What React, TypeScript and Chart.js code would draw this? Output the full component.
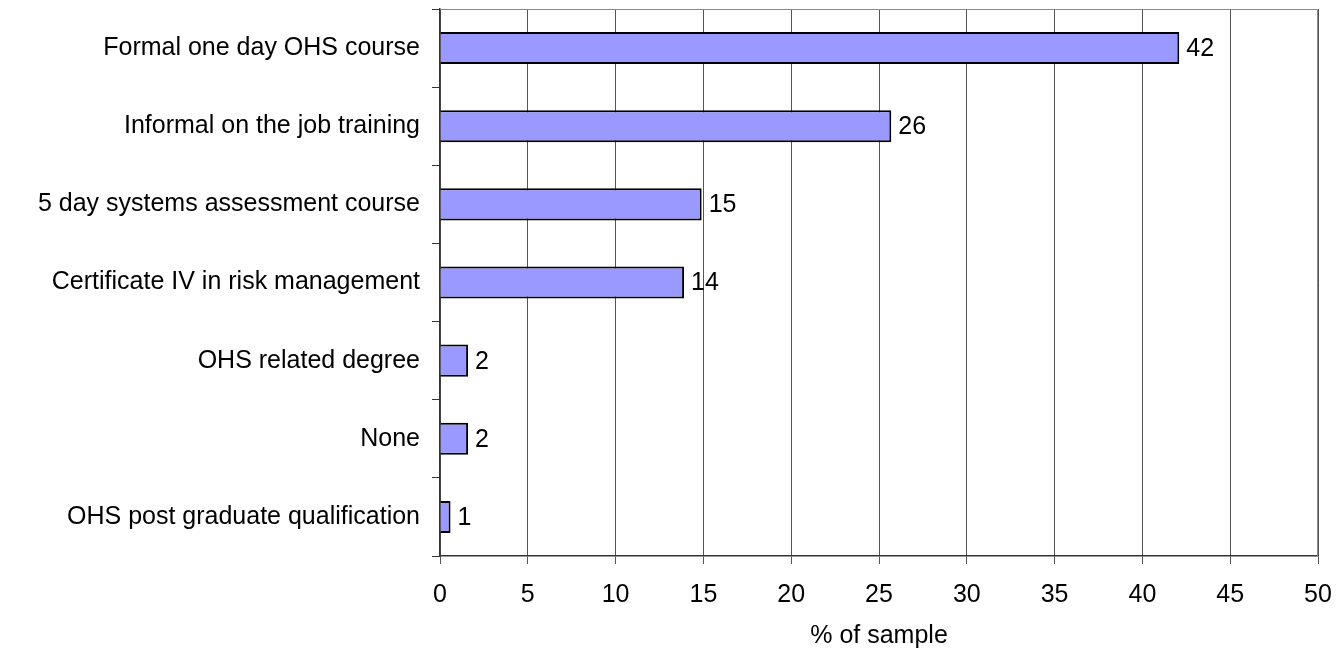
import React, { useEffect, useRef } from "react";
import { Chart, registerables } from "chart.js";

Chart.register(...registerables);

const categories = [
  "Formal one day OHS course",
  "Informal on the job training",
  "5 day systems assessment course",
  "Certificate IV in risk management",
  "OHS related degree",
  "None",
  "OHS post graduate qualification",
];
const values = [42.1, 25.7, 14.9, 13.9, 1.6, 1.6, 0.6];
const valueLabels = ["42", "26", "15", "14", "2", "2", "1"];
const xTitle = "% of sample";

const FONT = "'Liberation Sans', Arial, sans-serif";
const FS = 25;

const extras = {
  id: "extras",
  afterDatasetsDraw(chart: any) {
    const ctx = chart.ctx;
    const area = chart.chartArea;
    ctx.save();
    ctx.strokeStyle = "#888888";
    ctx.lineWidth = 1;
    ctx.beginPath();
    ctx.moveTo(area.left, area.top + 0.5);
    ctx.lineTo(area.right - 0.5, area.top + 0.5);
    ctx.lineTo(area.right - 0.5, area.bottom);
    ctx.stroke();
    const meta = chart.getDatasetMeta(0);
    ctx.fillStyle = "#000";
    ctx.font = FS + "px " + FONT;
    ctx.textBaseline = "middle";
    ctx.textAlign = "left";
    meta.data.forEach((bar: any, i: number) => {
      ctx.fillText(valueLabels[i], bar.x + 7, bar.y + 1);
    });
    ctx.restore();
  },
};

export default function App() {
  const ref = useRef<HTMLCanvasElement>(null);
  useEffect(() => {
    document.body.style.margin = "0";
    const chart = new Chart(ref.current!, {
      type: "bar",
      data: {
        labels: categories,
        datasets: [
          {
            data: values,
            backgroundColor: "#9999FF",
            borderColor: "#000000",
            borderWidth: 2,
            categoryPercentage: 1,
            barPercentage: 0.41,
          },
        ],
      },
      options: {
        indexAxis: "y",
        animation: false,
        responsive: true,
        maintainAspectRatio: false,
        layout: { padding: { top: 9, right: 19, left: 0, bottom: 0 } },
        plugins: { legend: { display: false }, tooltip: { enabled: false } },
        scales: {
          x: {
            min: 0,
            max: 50,
            ticks: {
              stepSize: 5,
              color: "#000",
              font: { size: FS, family: FONT },
              padding: 16,
            },
            grid: { color: "#555555", lineWidth: 1, tickLength: 8 },
            border: { color: "#333333", width: 1.5 },
            title: {
              display: true,
              text: xTitle,
              color: "#000",
              font: { size: FS, family: FONT },
              padding: { top: 10, bottom: 2 },
            },
            afterFit: (s: any) => {
              s.height = 97;
              s.paddingLeft = 0;
              s.paddingRight = 0;
            },
          },
          y: {
            ticks: {
              color: "#000",
              font: { size: FS, family: FONT },
              padding: 12,
            },
            grid: {
              offset: true,
              drawOnChartArea: false,
              color: "#333333",
              tickLength: 8,
            },
            border: { color: "#333333", width: 1.5 },
            afterFit: (s: any) => {
              s.width = 440;
              s.paddingTop = 0;
              s.paddingBottom = 0;
            },
          },
        },
      },
      plugins: [extras],
    });
    return () => chart.destroy();
  }, []);
  return (
    <div style={{ position: "fixed", left: 0, top: 0, width: 1337, height: 653 }}>
      <canvas ref={ref} />
    </div>
  );
}
